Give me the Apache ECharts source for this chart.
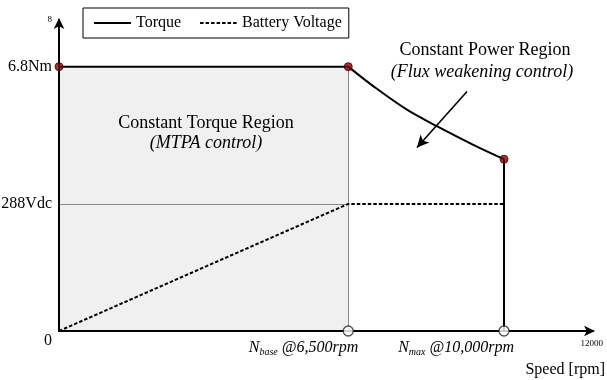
<!DOCTYPE html>
<html>
<head>
<meta charset="utf-8">
<script src="https://cdn.jsdelivr.net/npm/echarts@6/dist/echarts.min.js"></script>
<style>
html,body{margin:0;padding:0;background:#fff;}
#chart{width:607px;height:380px;}
</style>
</head>
<body>
<div id="chart"></div>
<script>
// ---- data ----
const flatSpeed = [0, 6500];
const flatTorque = [6.8, 6.8];
const powerSpeed = [6500, 7060, 7810, 8490, 9310, 10000];
const powerTorque = [6.8, 6.30, 5.70, 5.27, 4.79, 4.42];
const dropSpeed = [10000, 10000];
const dropTorque = [4.42, 0];
const voltageSpeed = [0, 6500, 10000];
const voltageValue = [0, 3.27, 3.27];
const cornerSpeed = [0, 6500, 10000];
const cornerTorque = [6.8, 6.8, 4.42];
const markSpeed = [6500, 10000];
const markValue = [0, 0];
const yTickValues = [0, 3.27, 6.8, 8];
const yTickLabels = ['0', '288Vdc', '6.8Nm', '8'];
const xTickValues = [6500, 10000, 12000];
const xTickLabels = ['{i|N}{sub|base}{i| @6,500rpm}', '{i|N}{sub|max}{i| @10,000rpm}', '{s|12000}'];
const regionSpeedBase = 6500;
const regionTorqueBase = 6.8;
const arrowFrom = [9169, 6.16];
const arrowTo = [8045, 4.72];

const zip = (a, b) => a.map((v, i) => [v, b[i]]);
const FONT = '"Liberation Serif", "DejaVu Serif", serif';

const chart = echarts.init(document.getElementById('chart'), null, {renderer: 'canvas'});
chart.setOption({
  animation: false,
  backgroundColor: '#fff',
  textStyle: {fontFamily: FONT, color: '#000'},
  grid: {left: 59, right: 14, top: 20, bottom: 49, containLabel: false, outerBoundsMode: 'none'},
  legend: {
    data: ['Torque', 'Battery Voltage'],
    left: 83, top: 8,
    padding: [7, 7, 7, 10],
    borderColor: '#000', borderWidth: 1,
    itemWidth: 37, itemHeight: 14, itemGap: 18,
    itemStyle: {opacity: 0},
    textStyle: {fontFamily: FONT, fontSize: 16, color: '#000'}
  },
  xAxis: {
    type: 'value', min: 0, max: 12000,
    splitLine: {show: false},
    axisTick: {show: false},
    axisLine: {lineStyle: {color: '#000', width: 2}, symbol: ['none', 'arrow'], symbolSize: [8, 11], symbolOffset: [0, 2]},
    z: 10,
    name: 'Speed [rpm]',
    nameLocation: 'end', nameGap: 12,
    nameTextStyle: {fontFamily: FONT, fontSize: 16, color: '#000', align: 'right', verticalAlign: 'top', padding: [31, 0, 0, 0]},
    axisLabel: {
      customValues: xTickValues,
      margin: 8,
      align: 'right',
      padding: [0, -10, 0, 0],
      formatter: (v) => xTickLabels[xTickValues.indexOf(v)] || '',
      rich: {
        i: {fontFamily: FONT, fontSize: 16, fontStyle: 'italic', color: '#000'},
        sub: {fontFamily: FONT, fontSize: 10, fontStyle: 'italic', color: '#000', verticalAlign: 'bottom', padding: [8, 0, 0, 0]},
        s: {fontFamily: FONT, fontSize: 9, color: '#000', padding: [0, 0, 12, 0]}
      }
    }
  },
  yAxis: {
    type: 'value', min: 0, max: 8,
    splitLine: {show: false},
    axisTick: {show: false},
    axisLine: {lineStyle: {color: '#000', width: 2}, symbol: ['none', 'arrow'], symbolSize: [8, 11], symbolOffset: [0, 2]},
    z: 10,
    axisLabel: {
      customValues: yTickValues,
      margin: 7,
      formatter: (v) => {
        const i = yTickValues.indexOf(v);
        if (i === 0) return '{z|0}';
        if (i === 3) return '{s|8}';
        return '{n|' + yTickLabels[i] + '}';
      },
      rich: {
        n: {fontFamily: FONT, fontSize: 16, color: '#000'},
        z: {fontFamily: FONT, fontSize: 16, color: '#000', padding: [20, 0, 0, 0]},
        s: {fontFamily: FONT, fontSize: 9, color: '#000'}
      }
    }
  },
  series: [
    {
      name: 'Torque', type: 'line', symbol: 'none', z: 5,
      data: zip(flatSpeed, flatTorque),
      lineStyle: {color: '#000', width: 2}, itemStyle: {color: '#000'},
      markArea: {
        silent: true,
        itemStyle: {color: '#f0f0f0'},
        data: [[{coord: [0, 0]}, {coord: [regionSpeedBase, regionTorqueBase]}]]
      }
    },
    {
      name: 'Torque', type: 'line', symbol: 'none', smooth: 0.35, z: 5,
      data: zip(powerSpeed, powerTorque),
      lineStyle: {color: '#000', width: 2}, itemStyle: {color: '#000'}
    },
    {
      name: 'Torque', type: 'line', symbol: 'none', z: 5,
      data: zip(dropSpeed, dropTorque),
      lineStyle: {color: '#000', width: 2}, itemStyle: {color: '#000'}
    },
    {
      name: 'Battery Voltage', type: 'line', symbol: 'none', z: 5,
      data: zip(voltageSpeed, voltageValue),
      lineStyle: {color: '#000', width: 2, type: [3.5, 2]}, itemStyle: {color: '#000'},
      markLine: {
        silent: true, symbol: 'none', label: {show: false},
        lineStyle: {color: '#888', width: 1, type: 'solid'},
        data: [
          [{coord: [0, voltageValue[1]]}, {coord: [regionSpeedBase, voltageValue[1]]}],
          [{coord: [regionSpeedBase, regionTorqueBase]}, {coord: [regionSpeedBase, 0]}]
        ]
      }
    },
    {
      type: 'line', symbol: 'none', data: [], z: 6,
      markLine: {
        silent: true, symbol: ['none', 'arrow'], symbolSize: [9, 12], label: {show: false},
        lineStyle: {color: '#000', width: 1.6, type: 'solid'},
        data: [[{coord: arrowFrom}, {coord: arrowTo}]]
      }
    },
    {
      type: 'scatter', z: 12, symbolSize: 8,
      data: zip(cornerSpeed, cornerTorque),
      itemStyle: {color: '#8b0000', borderColor: '#3a0000', borderWidth: 1}
    },
    {
      type: 'scatter', z: 12, symbolSize: 10,
      data: zip(markSpeed, markValue),
      itemStyle: {color: '#fff', borderColor: '#222', borderWidth: 1.3}
    }
  ],
  graphic: [
    {type: 'text', z: 100, x: 206, y: 123, style: {text: 'Constant Torque Region', fontFamily: FONT, fontSize: 18, fill: '#000', align: 'center', verticalAlign: 'middle'}},
    {type: 'text', z: 100, x: 206, y: 143, style: {text: '(MTPA control)', fontFamily: FONT, fontSize: 18, fontStyle: 'italic', fill: '#000', align: 'center', verticalAlign: 'middle'}},
    {type: 'text', z: 100, x: 485, y: 50, style: {text: 'Constant Power Region', fontFamily: FONT, fontSize: 18, fill: '#000', align: 'center', verticalAlign: 'middle'}},
    {type: 'text', z: 100, x: 482, y: 72, style: {text: '(Flux weakening control)', fontFamily: FONT, fontSize: 18, fontStyle: 'italic', fill: '#000', align: 'center', verticalAlign: 'middle'}}
  ]
});
</script>
</body>
</html>
